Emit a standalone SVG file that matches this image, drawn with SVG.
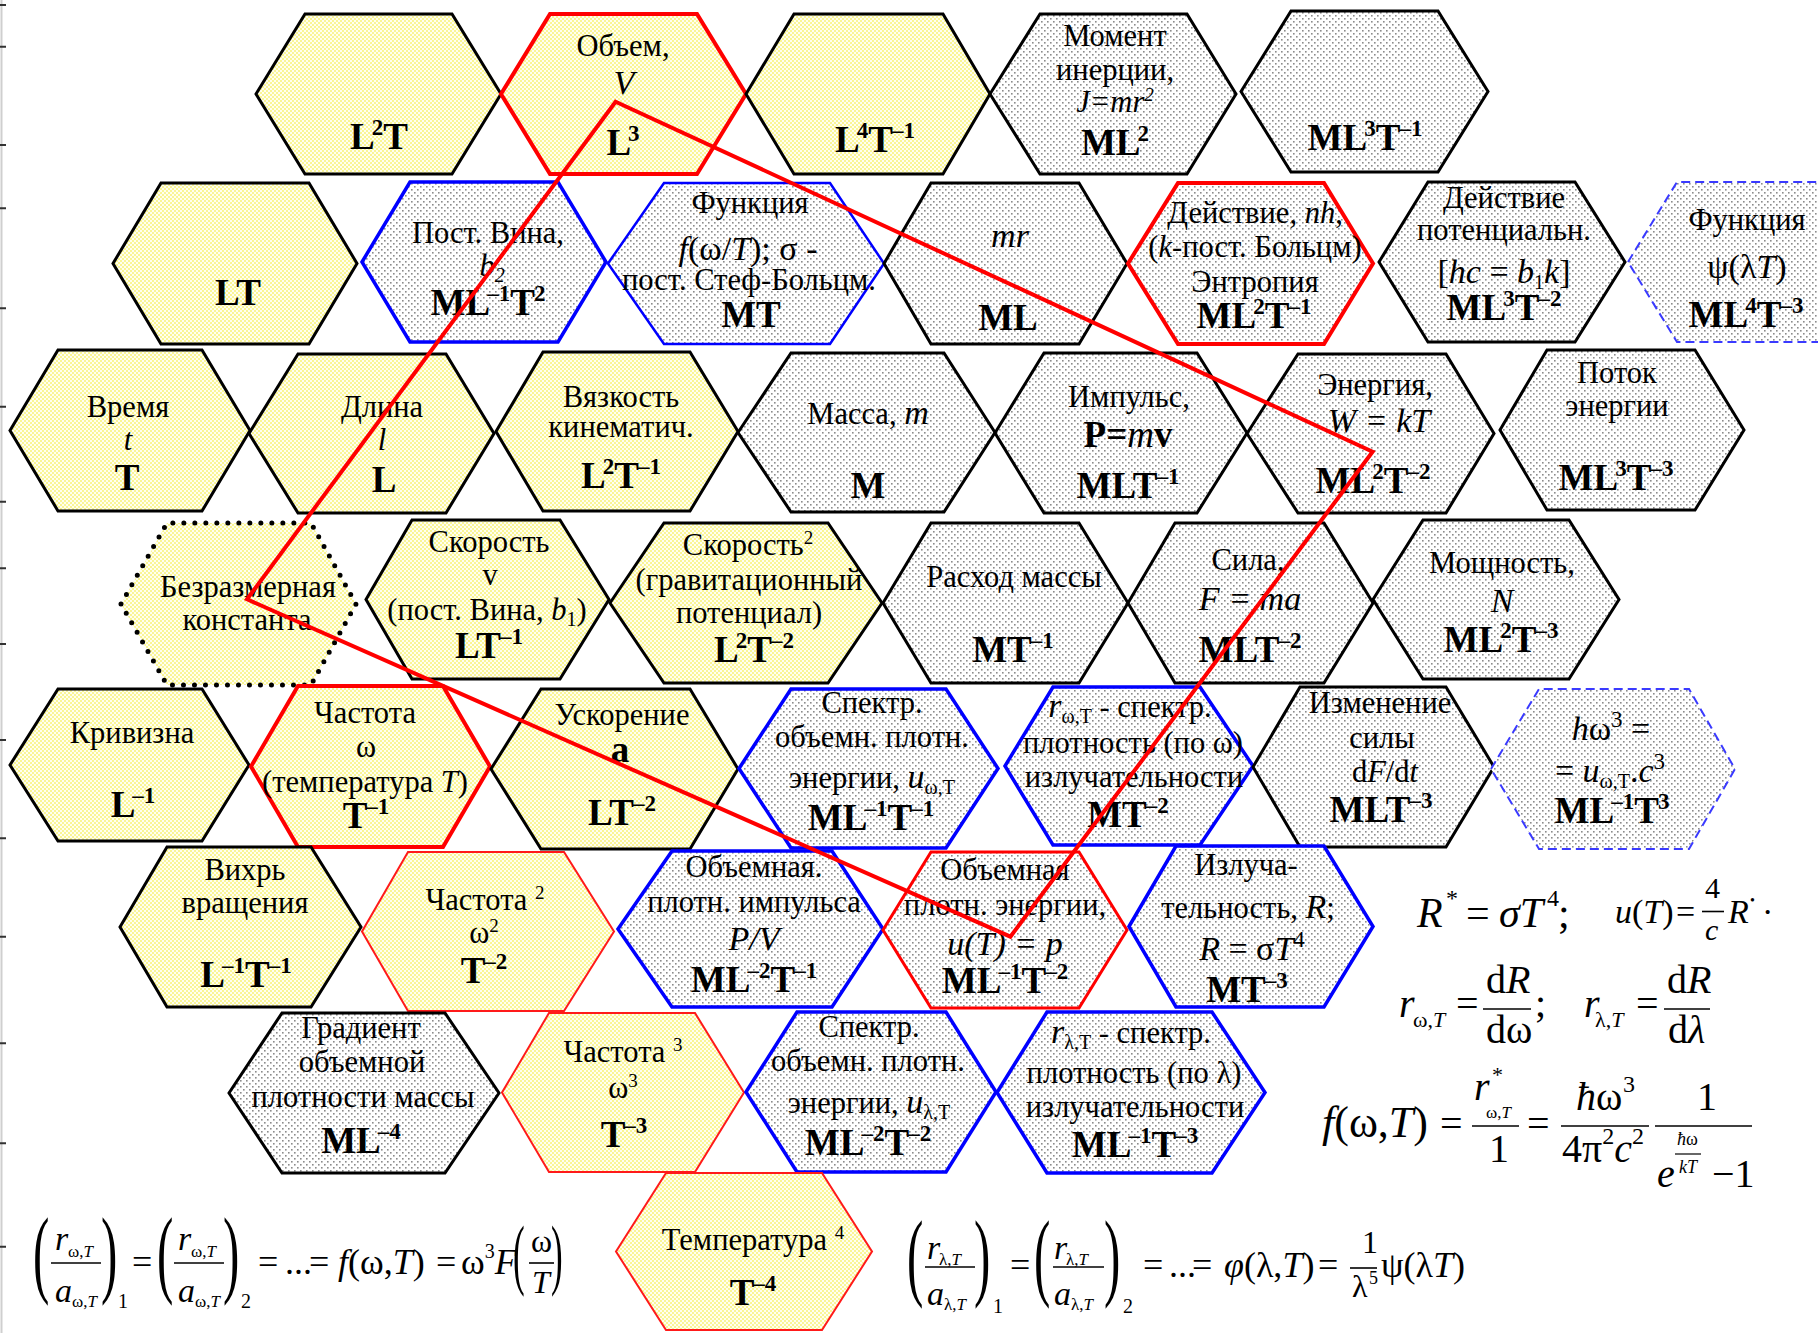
<svg xmlns="http://www.w3.org/2000/svg" width="1818" height="1333" viewBox="0 0 1818 1333">
<defs>
<pattern id="py" width="4" height="4" patternUnits="userSpaceOnUse"><rect width="4" height="4" fill="#fffff0"/><rect width="2" height="2" fill="#faf596"/><rect x="2" y="2" width="2" height="2" fill="#faf596"/></pattern>
<pattern id="pg" width="6" height="6" patternUnits="userSpaceOnUse"><rect width="6" height="6" fill="#ffffff"/><rect width="1.6" height="1.6" fill="#8c8c8c"/><rect x="3" y="3" width="1.6" height="1.6" fill="#8c8c8c"/></pattern>
<style>
text{font-family:"Liberation Serif","Times New Roman",serif;fill:#000}
.c{text-anchor:middle;font-size:30.5px}
.b{font-weight:bold;font-size:37px}
.i{font-style:italic}
.n{font-weight:normal}
.big{font-size:34px}
.sp{font-size:23px}
.ss{font-size:19px}
.sub{font-size:20px}
.y{fill:url(#py)}
.g{fill:url(#pg)}
.k{stroke:#000;stroke-width:3}
.r4{stroke:#ff0000;stroke-width:4}
.r3{stroke:#ff0000;stroke-width:3}
.r2{stroke:#ff1a1a;stroke-width:2}
.bl{stroke:#0000ff;stroke-width:3.5}
.bt{stroke:#0000ff;stroke-width:2.5}
.bd{stroke:#3a3aff;stroke-width:2;stroke-dasharray:9 5}
.dt{stroke:#000;stroke-width:5;stroke-dasharray:0 11;stroke-linecap:round}
.bar{stroke:#000;stroke-width:1.6}
</style>
</defs>
<rect width="1818" height="1333" fill="#ffffff"/>
<g id="ruler">
<line x1="1.5" y1="0" x2="1.5" y2="1333" stroke="#cfcfcf" stroke-width="2"/>
<path d="M0 5h6M0 46.7h6M0 145h6M0 208.3h6M0 308.3h6M0 406.7h6M0 501.7h6M0 568.3h6M0 644h6M0 740h6M0 838.3h6M0 936.7h6M0 1043.3h6M0 1143.3h6M0 1246.7h6" stroke="#333" stroke-width="2"/>
</g>

<g id="n-L2T"><polygon class="y k" points="256,94 305,14 452,14 501,94 452,174 305,174"/>
<text class="c b" x="379" y="149">L<tspan class="sp" dx="-3" dy="-14">2</tspan><tspan dy="14">T</tspan></text></g>
<g id="n-volume"><polygon class="y r4" points="501,94 550,14 697,14 746,94 697,174 550,174"/>
<text class="c" x="623" y="56">Объем,</text>
<text class="c i big" x="624" y="94">V</text>
<text class="c b" x="623" y="155">L<tspan class="sp" dx="-3" dy="-14">3</tspan></text></g>
<g id="n-L4T-1"><polygon class="y k" points="746,94 794,14 943,14 990,94 943,174 794,174"/>
<text class="c b" x="875" y="152">L<tspan class="sp" dx="-3" dy="-14">4</tspan><tspan dy="14">T</tspan><tspan class="sp" dx="-1" dy="-14">–1</tspan></text></g>
<g id="n-inertia"><polygon class="g k" points="990,94 1040,14 1187,14 1236,94 1187,174 1040,174"/>
<text class="c" x="1115" y="46">Момент</text>
<text class="c" x="1115" y="80">инерции,</text>
<text class="c i" x="1115" y="112" font-size="28">J=mr<tspan class="ss" dy="-11">2</tspan></text>
<text class="c b" x="1115" y="155">ML<tspan class="sp" dx="-3" dy="-14">2</tspan></text></g>
<g id="n-ML3T-1"><polygon class="g k" points="1241,91.5 1291,11 1438,11 1488,91.5 1438,172 1291,172"/>
<text class="c b" x="1365" y="150">ML<tspan class="sp" dx="-3" dy="-14">3</tspan><tspan dy="14">T</tspan><tspan class="sp" dx="-1" dy="-14">–1</tspan></text></g>

<g id="n-LT"><polygon class="y k" points="113,263.5 161,183 309,183 357,263.5 309,344 161,344"/>
<text class="c b" x="238" y="305">LT</text></g>
<g id="n-wien2"><polygon class="g bl" points="362,262 410,182 558,182 606,262 558,342 410,342"/>
<text class="c" x="488" y="243">Пост. Вина,</text>
<text class="c i" x="492" y="276">b<tspan class="sub" dy="6">2</tspan></text>
<text class="c b" x="488" y="315">ML<tspan class="sp" dx="-3" dy="-14">–1</tspan><tspan dy="14">T</tspan><tspan class="sp" dx="-1" dy="-14">2</tspan></text></g>
<g id="n-f-omega"><polygon class="g bt" points="608,263.5 664,183 830,183 884,263.5 830,344 664,344"/>
<text class="c" x="750" y="213">Функция</text>
<text class="c big" x="748" y="260"><tspan class="i">f</tspan>(ω/<tspan class="i">T</tspan>); σ -</text>
<text class="c" x="749" y="290" font-size="28">пост. Стеф-Больцм.</text>
<text class="c b" x="751" y="327">MT</text></g>
<g id="n-mr"><polygon class="g k" points="884,263.5 931,183 1079,183 1127,263.5 1079,344 931,344"/>
<text class="c i big" x="1010" y="247">mr</text>
<text class="c b" x="1008" y="330">ML</text></g>
<g id="n-action"><polygon class="g r4" points="1128,263.5 1178,183 1324,183 1373,263.5 1324,344 1178,344"/>
<text class="c" x="1255" y="223">Действие, <tspan class="i">nh</tspan>,</text>
<text class="c" x="1255" y="257">(<tspan class="i">k</tspan>-пост. Больцм)</text>
<text class="c" x="1255" y="292">Энтропия</text>
<text class="c b" x="1254" y="328">ML<tspan class="sp" dx="-3" dy="-14">2</tspan><tspan dy="14">T</tspan><tspan class="sp" dx="-1" dy="-14">–1</tspan></text></g>
<g id="n-action-pot"><polygon class="g k" points="1379,262 1428,182 1575,182 1625,262 1575,342 1428,342"/>
<text class="c" x="1504" y="208">Действие</text>
<text class="c" x="1504" y="240">потенциальн.</text>
<text class="c big" x="1504" y="283">[<tspan class="i">hc</tspan> = <tspan class="i">b</tspan><tspan class="sub" dy="6">1</tspan><tspan class="i" dy="-6">k</tspan>]</text>
<text class="c b" x="1504" y="320">ML<tspan class="sp" dx="-3" dy="-14">3</tspan><tspan dy="14">T</tspan><tspan class="sp" dx="-1" dy="-14">–2</tspan></text></g>
<g id="n-psi"><polygon class="g bd" points="1628,262 1677,182 1825,182 1874,262 1825,342 1677,342"/>
<text class="c" x="1747" y="230">Функция</text>
<text class="c big" x="1747" y="278">ψ(λ<tspan class="i">T</tspan>)</text>
<text class="c b" x="1746" y="327">ML<tspan class="sp" dx="-3" dy="-14">4</tspan><tspan dy="14">T</tspan><tspan class="sp" dx="-1" dy="-14">–3</tspan></text></g>

<g id="n-time"><polygon class="y k" points="10,430.5 58,350 202,350 250,430.5 202,511 58,511"/>
<text class="c" x="128" y="417">Время</text>
<text class="c i" x="128" y="450">t</text>
<text class="c b" x="127" y="490">T</text></g>
<g id="n-length"><polygon class="y k" points="249,433.5 298,354 446,354 494,433.5 446,513 298,513"/>
<text class="c" x="382" y="417">Длина</text>
<text class="c i" x="382" y="450">l</text>
<text class="c b" x="384" y="492">L</text></g>
<g id="n-viscosity"><polygon class="y k" points="496,431.5 543,352 690,352 738,431.5 690,511 543,511"/>
<text class="c" x="621" y="407">Вязкость</text>
<text class="c" x="621" y="437">кинематич.</text>
<text class="c b" x="621" y="488">L<tspan class="sp" dx="-3" dy="-14">2</tspan><tspan dy="14">T</tspan><tspan class="sp" dx="-1" dy="-14">–1</tspan></text></g>
<g id="n-mass"><polygon class="g k" points="738,432.5 791,353 944,353 995,432.5 944,512 791,512"/>
<text class="c" x="868" y="424">Масса, <tspan class="i big">m</tspan></text>
<text class="c b" x="868" y="498">M</text></g>
<g id="n-momentum"><polygon class="g k" points="995,433 1044,353 1197,353 1247,433 1197,513 1044,513"/>
<text class="c" x="1129" y="407">Импульс,</text>
<text class="c b" x="1128" y="447">P=<tspan class="i n">m</tspan>v</text>
<text class="c b" x="1128" y="498">MLT<tspan class="sp" dx="-1" dy="-14">–1</tspan></text></g>
<g id="n-energy"><polygon class="g k" points="1247,433.5 1298,354 1446,354 1494,433.5 1446,513 1298,513"/>
<text class="c" x="1375" y="395">Энергия,</text>
<text class="c i big" x="1379" y="432">W = kT</text>
<text class="c b" x="1373" y="493">ML<tspan class="sp" dx="-3" dy="-14">2</tspan><tspan dy="14">T</tspan><tspan class="sp" dx="-1" dy="-14">–2</tspan></text></g>
<g id="n-energy-flux"><polygon class="g k" points="1500,430 1547,350 1695,350 1744,430 1695,510 1547,510"/>
<text class="c" x="1617" y="383">Поток</text>
<text class="c" x="1617" y="416">энергии</text>
<text class="c b" x="1616" y="490">ML<tspan class="sp" dx="-3" dy="-14">3</tspan><tspan dy="14">T</tspan><tspan class="sp" dx="-1" dy="-14">–3</tspan></text></g>

<g id="n-dimensionless"><polygon class="dt" style="fill:url(#py)" points="121,604 167,523 311,523 356,604 311,685 167,685"/>
<text class="c" x="248" y="597">Безразмерная</text>
<text class="c" x="247" y="630">константа</text></g>
<g id="n-velocity"><polygon class="y k" points="366,599.5 412,520 560,520 609,599.5 560,679 412,679"/>
<text class="c" x="489" y="552">Скорость</text>
<text class="c" x="490" y="585">v</text>
<text class="c" x="487" y="620">(пост. Вина, <tspan class="i">b</tspan><tspan class="sub" dy="6">1</tspan><tspan dy="-6">)</tspan></text>
<text class="c b" x="489" y="658">LT<tspan class="sp" dx="-1" dy="-14">–1</tspan></text></g>
<g id="n-velocity2"><polygon class="y k" points="610,603 664,523 828,523 882,603 828,683 664,683"/>
<text class="c" x="748" y="555">Скорость<tspan class="ss" dy="-11">2</tspan></text>
<text class="c" x="749" y="590">(гравитационный</text>
<text class="c" x="749" y="623">потенциал)</text>
<text class="c b" x="754" y="662">L<tspan class="sp" dx="-3" dy="-14">2</tspan><tspan dy="14">T</tspan><tspan class="sp" dx="-1" dy="-14">–2</tspan></text></g>
<g id="n-massflow"><polygon class="g k" points="883,603 931,523 1079,523 1128,603 1079,683 931,683"/>
<text class="c" x="1014" y="587">Расход массы</text>
<text class="c b" x="1013" y="662">MT<tspan class="sp" dx="-1" dy="-14">–1</tspan></text></g>
<g id="n-force"><polygon class="g k" points="1128,603 1175,523 1324,523 1373,603 1324,683 1175,683"/>
<text class="c" x="1248" y="570">Сила,</text>
<text class="c i big" x="1250" y="610">F = ma</text>
<text class="c b" x="1250" y="662">MLT<tspan class="sp" dx="-1" dy="-14">–2</tspan></text></g>
<g id="n-power"><polygon class="g k" points="1373,599.5 1423,520 1569,520 1619,599.5 1569,679 1423,679"/>
<text class="c" x="1502" y="573">Мощность,</text>
<text class="c i big" x="1502" y="612">N</text>
<text class="c b" x="1501" y="652">ML<tspan class="sp" dx="-3" dy="-14">2</tspan><tspan dy="14">T</tspan><tspan class="sp" dx="-1" dy="-14">–3</tspan></text></g>

<g id="n-curvature"><polygon class="y k" points="10,765 58,689 202,689 249,765 202,841 58,841"/>
<text class="c" x="132" y="743">Кривизна</text>
<text class="c b" x="133" y="817">L<tspan class="sp" dx="-3" dy="-14">–1</tspan></text></g>
<g id="n-frequency"><polygon class="y r4" points="251,766.5 298,686 443,686 490,766.5 443,847 298,847"/>
<text class="c" x="365" y="723">Частота</text>
<text class="c" x="366" y="757">ω</text>
<text class="c" x="365" y="792">(температура <tspan class="i">T</tspan>)</text>
<text class="c b" x="366" y="828">T<tspan class="sp" dx="-1" dy="-14">–1</tspan></text></g>
<g id="n-acceleration"><polygon class="y k" points="491,769 541,689 690,689 738,769 690,849 541,849"/>
<text class="c" x="622" y="725">Ускорение</text>
<text class="c b" x="620" y="762">a</text>
<text class="c b" x="622" y="825">LT<tspan class="sp" dx="-1" dy="-14">–2</tspan></text></g>
<g id="n-u-omega"><polygon class="g bl" points="739,768.5 791,689 946,689 998,768.5 946,848 791,848"/>
<text class="c" x="872" y="713">Спектр.</text>
<text class="c" x="872" y="747">объемн. плотн.</text>
<text class="c" x="872" y="788">энергии, <tspan class="i big">u</tspan><tspan class="sub" dy="6">ω,T</tspan></text>
<text class="c b" x="871" y="830">ML<tspan class="sp" dx="-3" dy="-14">–1</tspan><tspan dy="14">T</tspan><tspan class="sp" dx="-1" dy="-14">–1</tspan></text></g>
<g id="n-r-omega"><polygon class="g bl" points="1005,766 1053,687 1200,687 1253,766 1200,845 1053,845"/>
<text class="c" x="1130" y="717"><tspan class="i big">r</tspan><tspan class="sub" dy="6">ω,T</tspan><tspan dy="-6"> - спектр.</tspan></text>
<text class="c" x="1133" y="753">плотность (по ω)</text>
<text class="c" x="1134" y="787">излучательности</text>
<text class="c b" x="1128" y="827">MT<tspan class="sp" dx="-1" dy="-14">–2</tspan></text></g>
<g id="n-dFdt"><polygon class="g k" points="1253,767 1300,687 1446,687 1494,767 1446,847 1300,847"/>
<text class="c" x="1380" y="713">Изменение</text>
<text class="c" x="1382" y="748">силы</text>
<text class="c" x="1385" y="782">d<tspan class="i">F</tspan>/d<tspan class="i">t</tspan></text>
<text class="c b" x="1381" y="822">MLT<tspan class="sp" dx="-1" dy="-14">–3</tspan></text></g>
<g id="n-h-omega3"><polygon class="g bd" points="1491,769 1539,689 1689,689 1735,769 1689,849 1539,849"/>
<text class="c big" x="1611" y="740"><tspan class="i">h</tspan>ω<tspan class="sp" dy="-13">3</tspan><tspan dy="13"> =</tspan></text>
<text class="c big" x="1610" y="782">= <tspan class="i">u</tspan><tspan class="sub" dy="6">ω,T</tspan><tspan dy="-6">.</tspan><tspan class="i">c</tspan><tspan class="sp" dy="-13">3</tspan></text>
<text class="c b" x="1612" y="823">ML<tspan class="sp" dx="-3" dy="-14">–1</tspan><tspan dy="14">T</tspan><tspan class="sp" dx="-1" dy="-14">3</tspan></text></g>

<g id="n-vortex"><polygon class="y k" points="120,927 167,847 311,847 361,927 311,1007 167,1007"/>
<text class="c" x="245" y="880">Вихрь</text>
<text class="c" x="245" y="913">вращения</text>
<text class="c b" x="246" y="987">L<tspan class="sp" dx="-3" dy="-14">–1</tspan><tspan dy="14">T</tspan><tspan class="sp" dx="-1" dy="-14">–1</tspan></text></g>
<g id="n-frequency2"><polygon class="y r2" points="362,931.5 408,852 564,852 614,931.5 564,1011 408,1011"/>
<text class="c" x="485" y="910">Частота <tspan class="ss" dy="-11">2</tspan></text>
<text class="c" x="484" y="943">ω<tspan class="ss" dy="-11">2</tspan></text>
<text class="c b" x="484" y="983">T<tspan class="sp" dx="-1" dy="-14">–2</tspan></text></g>
<g id="n-momentum-density"><polygon class="g bl" points="618,929 672,851 832,851 883,929 832,1007 672,1007"/>
<text class="c" x="754" y="877">Объемная.</text>
<text class="c" x="754" y="912">плотн. импульса</text>
<text class="c i big" x="754" y="950">P/V</text>
<text class="c b" x="754" y="992">ML<tspan class="sp" dx="-3" dy="-14">–2</tspan><tspan dy="14">T</tspan><tspan class="sp" dx="-1" dy="-14">–1</tspan></text></g>
<g id="n-energy-density"><polygon class="g r3" points="883,930 931,852 1079,852 1127,930 1079,1008 931,1008"/>
<text class="c" x="1005" y="880">Объемная</text>
<text class="c" x="1005" y="915">плотн. энергии,</text>
<text class="c i big" x="1005" y="955">u(T) = p</text>
<text class="c b" x="1005" y="993">ML<tspan class="sp" dx="-3" dy="-14">–1</tspan><tspan dy="14">T</tspan><tspan class="sp" dx="-1" dy="-14">–2</tspan></text></g>
<g id="n-emittance"><polygon class="g bl" points="1129,926.5 1176,846 1324,846 1373,926.5 1324,1007 1176,1007"/>
<text class="c" x="1246" y="875">Излуча-</text>
<text class="c" x="1248" y="918">тельность, <tspan class="i big">R</tspan>;</text>
<text class="c big" x="1252" y="960"><tspan class="i">R</tspan> = σ<tspan class="i">T</tspan><tspan class="sp" dy="-13">4</tspan></text>
<text class="c b" x="1247" y="1002">MT<tspan class="sp" dx="-1" dy="-14">–3</tspan></text></g>

<g id="n-gradient"><polygon class="g k" points="229,1093 282,1013 445,1013 499,1093 445,1173 282,1173"/>
<text class="c" x="361" y="1038">Градиент</text>
<text class="c" x="362" y="1072">объемной</text>
<text class="c" x="363" y="1107">плотности массы</text>
<text class="c b" x="361" y="1153">ML<tspan class="sp" dx="-3" dy="-14">–4</tspan></text></g>
<g id="n-frequency3"><polygon class="y r2" points="502,1092.5 549,1013 695,1013 744,1092.5 695,1172 549,1172"/>
<text class="c" x="623" y="1062">Частота <tspan class="ss" dy="-11">3</tspan></text>
<text class="c" x="623" y="1098">ω<tspan class="ss" dy="-11">3</tspan></text>
<text class="c b" x="624" y="1147">T<tspan class="sp" dx="-1" dy="-14">–3</tspan></text></g>
<g id="n-u-lambda"><polygon class="g bl" points="746,1092 797,1012 946,1012 996,1092 946,1172 797,1172"/>
<text class="c" x="869" y="1037">Спектр.</text>
<text class="c" x="868" y="1071">объемн. плотн.</text>
<text class="c" x="869" y="1113">энергии, <tspan class="i big">u</tspan><tspan class="sub" dy="6">λ,T</tspan></text>
<text class="c b" x="868" y="1155">ML<tspan class="sp" dx="-3" dy="-14">–2</tspan><tspan dy="14">T</tspan><tspan class="sp" dx="-1" dy="-14">–2</tspan></text></g>
<g id="n-r-lambda"><polygon class="g bl" points="997,1092.5 1047,1012 1212,1012 1265,1092.5 1212,1173 1047,1173"/>
<text class="c" x="1131" y="1043"><tspan class="i big">r</tspan><tspan class="sub" dy="6">λ,T</tspan><tspan dy="-6"> - спектр.</tspan></text>
<text class="c" x="1134" y="1083">плотность (по λ)</text>
<text class="c" x="1135" y="1117">излучательности</text>
<text class="c b" x="1135" y="1157">ML<tspan class="sp" dx="-3" dy="-14">–1</tspan><tspan dy="14">T</tspan><tspan class="sp" dx="-1" dy="-14">–3</tspan></text></g>

<g id="n-temperature4"><polygon class="y r2" points="616,1251.5 666,1173 822,1173 872,1251.5 822,1330 666,1330"/>
<text class="c" x="753" y="1250">Температура <tspan class="ss" dy="-11">4</tspan></text>
<text class="c b" x="753" y="1305">T<tspan class="sp" dx="-1" dy="-14">–4</tspan></text></g>

<g id="connectors">
<polygon points="615.6,101.7 1372.6,451.7 1010.4,936.7 247,599.3" fill="none" stroke="#ff0000" stroke-width="4" stroke-linejoin="miter"/>
</g>

<g id="formula-R">
<text class="i" x="1417" y="927" font-size="42">R</text>
<text x="1446" y="906" font-size="24">*</text>
<text x="1466" y="927" font-size="42">=</text>
<text class="i" x="1499" y="927" font-size="42">σT</text>
<text x="1547" y="906" font-size="24">4</text>
<text x="1558" y="927" font-size="42">;</text>
<text x="1615" y="923" font-size="34"><tspan class="i">u</tspan>(<tspan class="i">T</tspan>)</text>
<text x="1676" y="923" font-size="34">=</text>
<text x="1705" y="898" font-size="30">4</text>
<line class="bar" x1="1702" y1="911.5" x2="1724" y2="911.5"/>
<text class="i" x="1705" y="940" font-size="30">c</text>
<text class="i" x="1728" y="923" font-size="34">R</text>
<text x="1750" y="905" font-size="14">•</text>
<text x="1762" y="923" font-size="34">·</text>
</g>
<g id="formula-r">
<text class="i" x="1399" y="1017" font-size="40">r</text>
<text x="1413" y="1027" font-size="22">ω,<tspan class="i">T</tspan></text>
<text x="1456" y="1017" font-size="40">=</text>
<text x="1486" y="993" font-size="40">d<tspan class="i">R</tspan></text>
<line class="bar" x1="1483" y1="1009" x2="1531" y2="1009"/>
<text x="1486" y="1043" font-size="40">dω</text>
<text x="1535" y="1017" font-size="40">;</text>
<text class="i" x="1584" y="1017" font-size="40">r</text>
<text x="1595" y="1027" font-size="22">λ,<tspan class="i">T</tspan></text>
<text x="1636" y="1017" font-size="40">=</text>
<text x="1667" y="993" font-size="40">d<tspan class="i">R</tspan></text>
<line class="bar" x1="1664" y1="1009" x2="1710" y2="1009"/>
<text x="1668" y="1043" font-size="40">d<tspan class="i">λ</tspan></text>
</g>
<g id="formula-planck">
<text x="1322" y="1137" font-size="44"><tspan class="i">f</tspan>(ω,<tspan class="i">T</tspan>)</text>
<text x="1440" y="1137" font-size="40">=</text>
<text class="i" x="1474" y="1100" font-size="40">r</text>
<text x="1492" y="1082" font-size="22">*</text>
<text x="1486" y="1118" font-size="17">ω,<tspan class="i">T</tspan></text>
<line class="bar" x1="1472" y1="1126" x2="1519" y2="1126"/>
<text x="1489" y="1162" font-size="40">1</text>
<text x="1527" y="1137" font-size="40">=</text>
<text x="1576" y="1110" font-size="40"><tspan class="i">ħ</tspan>ω</text>
<text x="1623" y="1092" font-size="24">3</text>
<line class="bar" x1="1561" y1="1126" x2="1649" y2="1126"/>
<text x="1562" y="1162" font-size="40">4π<tspan font-size="24" dy="-18">2</tspan><tspan class="i" dy="18">c</tspan><tspan font-size="24" dy="-18">2</tspan></text>
<line class="bar" x1="1655" y1="1126" x2="1752" y2="1126"/>
<text x="1697" y="1110" font-size="40">1</text>
<text class="i" x="1657" y="1187" font-size="40">e</text>
<text x="1677" y="1145" font-size="18"><tspan class="i">ħ</tspan>ω</text>
<line x1="1675" y1="1154" x2="1701" y2="1154" stroke="#000" stroke-width="1.2"/>
<text class="i" x="1679" y="1173" font-size="18">kT</text>
<text x="1712" y="1187" font-size="40">−1</text>
</g>
<g id="formula-omega">
<text transform="translate(33,1285) scale(0.5,1)" font-size="98">(</text>
<text class="i" x="55" y="1250" font-size="34">r</text>
<text x="68" y="1257" font-size="17">ω,<tspan class="i">T</tspan></text>
<line class="bar" x1="51" y1="1263" x2="101" y2="1263"/>
<text class="i" x="55" y="1302" font-size="34">a</text>
<text x="72" y="1307" font-size="17">ω,<tspan class="i">T</tspan></text>
<text transform="translate(101,1285) scale(0.5,1)" font-size="98">)</text>
<text x="118" y="1308" font-size="20">1</text>
<text x="132" y="1274" font-size="36">=</text>
<text transform="translate(157,1285) scale(0.5,1)" font-size="98">(</text>
<text class="i" x="178" y="1250" font-size="34">r</text>
<text x="191" y="1257" font-size="17">ω,<tspan class="i">T</tspan></text>
<line class="bar" x1="174" y1="1263" x2="224" y2="1263"/>
<text class="i" x="178" y="1302" font-size="34">a</text>
<text x="195" y="1307" font-size="17">ω,<tspan class="i">T</tspan></text>
<text transform="translate(223,1285) scale(0.5,1)" font-size="98">)</text>
<text x="241" y="1308" font-size="20">2</text>
<text x="258" y="1274" font-size="36">=</text>
<text x="285" y="1274" font-size="36">...</text>
<text x="309" y="1274" font-size="36">=</text>
<text x="338" y="1274" font-size="36"><tspan class="i">f</tspan>(ω,<tspan class="i">T</tspan>)</text>
<text x="436" y="1274" font-size="36">=</text>
<text x="461" y="1274" font-size="36">ω<tspan font-size="20" dy="-16">3</tspan><tspan class="i" dy="16">F</tspan></text>
<text transform="translate(513,1280) scale(0.45,1)" font-size="78">(</text>
<text x="531" y="1252" font-size="32">ω</text>
<line class="bar" x1="529" y1="1263" x2="554" y2="1263"/>
<text class="i" x="532" y="1293" font-size="32">T</text>
<text transform="translate(551,1280) scale(0.45,1)" font-size="78">)</text>
</g>
<g id="formula-lambda">
<text transform="translate(907,1288) scale(0.5,1)" font-size="98">(</text>
<text class="i" x="927" y="1259" font-size="34">r</text>
<text x="939" y="1265" font-size="17">λ,<tspan class="i">T</tspan></text>
<line class="bar" x1="925" y1="1267" x2="975" y2="1267"/>
<text class="i" x="927" y="1305" font-size="34">a</text>
<text x="944" y="1310" font-size="17">λ,<tspan class="i">T</tspan></text>
<text transform="translate(974,1288) scale(0.5,1)" font-size="98">)</text>
<text x="993" y="1313" font-size="20">1</text>
<text x="1010" y="1277" font-size="36">=</text>
<text transform="translate(1034,1288) scale(0.5,1)" font-size="98">(</text>
<text class="i" x="1054" y="1259" font-size="34">r</text>
<text x="1066" y="1265" font-size="17">λ,<tspan class="i">T</tspan></text>
<line class="bar" x1="1053" y1="1267" x2="1104" y2="1267"/>
<text class="i" x="1054" y="1305" font-size="34">a</text>
<text x="1071" y="1310" font-size="17">λ,<tspan class="i">T</tspan></text>
<text transform="translate(1104,1288) scale(0.5,1)" font-size="98">)</text>
<text x="1123" y="1313" font-size="20">2</text>
<text x="1143" y="1277" font-size="36">=</text>
<text x="1169" y="1277" font-size="36">...</text>
<text x="1192" y="1277" font-size="36">=</text>
<text x="1224" y="1277" font-size="36"><tspan class="i">φ</tspan>(λ,<tspan class="i">T</tspan>)</text>
<text x="1318" y="1277" font-size="36">=</text>
<text x="1362" y="1253" font-size="32">1</text>
<line class="bar" x1="1350" y1="1268" x2="1377" y2="1268"/>
<text x="1352" y="1297" font-size="32">λ</text>
<text x="1369" y="1284" font-size="18">5</text>
<text x="1381" y="1277" font-size="36">ψ(λ<tspan class="i">T</tspan>)</text>
</g>
</svg>
